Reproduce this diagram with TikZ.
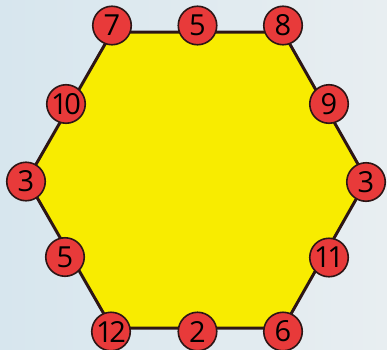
\documentclass[tikz,border=0pt]{standalone}
\usepackage{fontspec}
\newfontfamily\digitfont[LetterSpace=-11]{Open Sans}
\usepackage{tikz}
\usetikzlibrary{positioning}
\definecolor{bgleft}{RGB}{215,230,238}
\definecolor{bgright}{RGB}{232,238,241}
\definecolor{hexyellow}{RGB}{248,236,0}
\definecolor{discred}{RGB}{232,58,58}
\definecolor{edgeline}{RGB}{45,22,22}

\begin{document}
\begin{tikzpicture}[
  x=1pt, y=1pt,
  disc/.style={
    circle,
    draw=edgeline,
    line width=1.6pt,
    fill=discred,
    inner sep=0pt,
    minimum size=38.5pt,
    font=\digitfont\fontsize{29}{29}\selectfont
  }
]

\shade[left color=bgleft, right color=bgright] (0,0) rectangle (387,349);
\useasboundingbox (0,0) rectangle (387,349);

% corners of the hexagon
\coordinate (tl) at (112,317);
\coordinate (tr) at (283,317);
\coordinate (r)  at (367,169);
\coordinate (br) at (283,21);
\coordinate (bl) at (112,21);
\coordinate (l)  at (27,169);

\filldraw[fill=hexyellow, draw=edgeline, line width=3pt, line join=round]
  (tl) -- (tr) -- (r) -- (br) -- (bl) -- (l) -- cycle;

% numbers round the edge
\node[disc] (n7)  at (112,323.5) {7};
\node[disc] (n5t) at (197.5,323.5) {5};
\node[disc] (n8)  at (283,323.5) {8};
\node[disc] (n9)  at (329,245) {9};
\node[disc] (n3r) at (366,167) {3};
\node[disc] (n11) at (329,91.5) {11};
\node[disc] (n6)  at (283,17.5) {6};
\node[disc] (n2)  at (197.5,17.5) {2};
\node[disc] (n12) at (111,17.5) {12};
\node[disc] (n5l) at (65,92) {5};
\node[disc] (n3l) at (26,167.5) {3};
\node[disc] (n10) at (66,245) {10};

\end{tikzpicture}
\end{document}
